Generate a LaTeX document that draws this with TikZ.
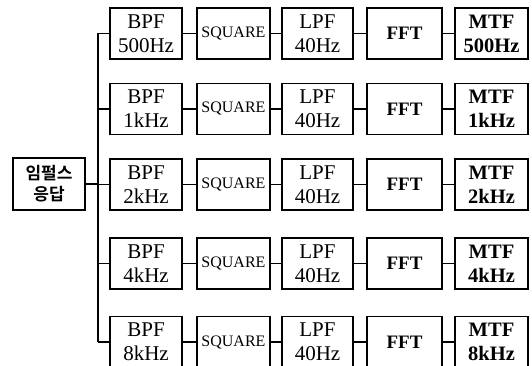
\documentclass[tikz,border=0pt]{standalone}
\usepackage{fontspec}
\setmainfont{Liberation Serif}
\newfontfamily\kr{Noto Sans CJK KR}[BoldFont={Noto Sans CJK KR Bold}]
\begin{document}
\begin{tikzpicture}[x=1pt,y=-1pt,
  box/.style={draw,line width=1.8pt,rectangle,minimum height=51pt,inner sep=0pt,align=center},
  bpfbox/.style={box,minimum width=72pt,font=\fontsize{21}{24}\selectfont},
  sqbox/.style={box,minimum width=73pt,font=\fontsize{16}{18}\selectfont},
  lpfbox/.style={box,minimum width=71pt,font=\fontsize{21}{24}\selectfont},
  fftbox/.style={box,minimum width=75pt,font=\fontsize{19}{20}\selectfont\bfseries},
  mtfbox/.style={box,minimum width=73pt,font=\fontsize{20.5}{24}\selectfont\bfseries},
  conn/.style={line width=1.6pt}]
\useasboundingbox (0,0) rectangle (532,366);
\clip (0,0) rectangle (532,366);
\node[box,minimum width=72pt,minimum height=52pt,font=\kr\bfseries\fontsize{17}{21}\selectfont] (in) at (49,184) {임펄스\\응답};
\coordinate (bt) at (98,33.5);
\coordinate (bb) at (98,342);
\coordinate (bm) at (98,184);
\draw[conn] (bt) -- (bb);
\draw[conn] (in.east) -- (bm);
\foreach \i/\y/\f/\g in {1/33.5/500Hz/500Hz,2/109/1kHz/1kHz,3/184.5/2kHz/2kHz,4/263.5/4kHz/4kHz,5/342/8kHz/8kHz}{
  \node[bpfbox] (b\i) at (146,\y) {BPF\\\f};
  \node[sqbox] (s\i) at (233.5,\y) {SQUARE};
  \node[lpfbox] (l\i) at (317.5,\y) {LPF\\40Hz};
  \node[fftbox] (f\i) at (404.5,\y) {FFT};
  \node[mtfbox] (m\i) at (491.5,\y) {MTF\\\g};
  \coordinate (j\i) at (98,\y);
  \draw[conn] (j\i) -- (b\i.west);
  \draw[conn] (b\i) -- (s\i);
  \draw[conn] (s\i) -- (l\i);
  \draw[conn] (l\i) -- (f\i);
  \draw[conn] (f\i) -- (m\i);
}
\end{tikzpicture}
\end{document}
